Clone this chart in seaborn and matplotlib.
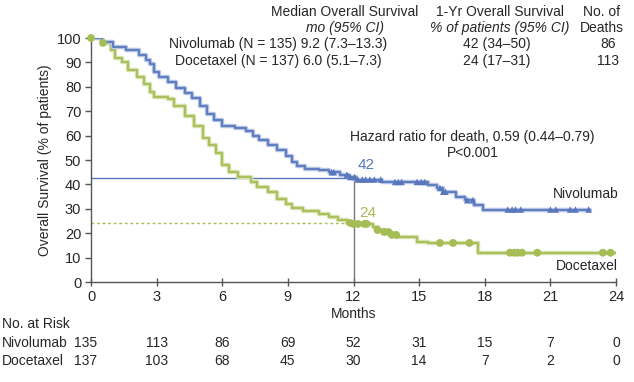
import numpy as np
import pandas as pd
import seaborn as sns
import matplotlib.pyplot as plt
import matplotlib.patheffects as pe

# Kaplan-Meier step points (months, % surviving)
nivo_t = [0, 0.5, 1.0, 1.6, 2.2, 2.5, 2.7, 2.9, 3.1, 3.5, 3.9, 4.3, 4.6, 5.0, 5.3, 5.6, 6.0,
          6.6, 7.1, 7.4, 7.7, 8.1, 8.5, 8.9, 9.2, 9.4, 9.8, 10.4, 10.9, 11.4, 11.8, 12.1,
          13.3, 15.4, 15.8, 16.1, 16.7, 17.1, 17.5, 17.9, 22.8]
nivo_s = [100, 98.5, 96.5, 95, 93, 91, 89.5, 86, 84, 82, 79.5, 77.5, 75.5, 72, 69, 66.5, 64,
          63, 62, 60, 58, 56, 54, 51.5, 49, 47.5, 46.5, 46, 45, 44, 43, 42,
          41, 39.8, 38.5, 37, 35, 33.5, 31.5, 29.7, 29.7]
doce_t = [0, 0.5, 0.9, 1.1, 1.4, 1.7, 2.1, 2.4, 2.7, 2.9, 3.5, 3.8, 4.3, 4.7, 5.1, 5.4, 5.7,
          6.0, 6.3, 6.7, 7.3, 7.6, 8.1, 8.5, 8.9, 9.2, 9.7, 10.4, 10.9, 11.3, 11.7, 12.0,
          12.9, 13.1, 13.4, 13.7, 14.0, 14.9, 15.4, 17.7, 24.0]
doce_s = [100, 98, 95, 92, 90, 87, 84, 81, 78, 76, 75, 72, 68, 64, 59, 56, 53,
          48, 45, 43, 41, 39, 37, 34, 32, 30.5, 29, 28, 26.8, 25.5, 24.2, 23.8,
          22.5, 21.3, 20.5, 19.3, 18.4, 16.4, 16, 12, 12]

# censored observations (months)
nivo_cens = [11.0, 11.1, 11.7, 11.85, 12.05, 12.2, 12.4, 12.55, 12.75, 12.95, 13.25, 13.9, 14.05,
             14.2, 14.9, 15.1, 15.25, 15.95, 16.1, 16.2, 17.2, 17.45, 19.05, 19.25, 19.4,
             19.65, 21.0, 21.25, 21.9, 22.15, 22.75]
doce_cens = [0.0, 0.55, 11.85, 12.0, 12.2, 12.5, 12.6, 13.1, 13.4, 13.6, 13.75, 13.95, 15.95,
             16.55, 17.3, 19.15, 19.35, 19.5, 19.7, 20.4, 23.4, 23.75]

months = [0, 3, 6, 9, 12, 15, 18, 21, 24]
risk_nivo = [135, 113, 86, 69, 52, 31, 15, 7, 0]
risk_doce = [137, 103, 68, 45, 30, 14, 7, 2, 0]

blue = '#5877bd'
green = '#a5bd55'
blue_halo = '#b5c3e3'
green_halo = '#d6e2ad'


def surv_at(t, times, surv):
    i = np.searchsorted(times, t, side='right') - 1
    return surv[max(i, 0)]


km = pd.concat([
    pd.DataFrame({'month': nivo_t, 'surv': nivo_s, 'arm': 'Nivolumab'}),
    pd.DataFrame({'month': doce_t, 'surv': doce_s, 'arm': 'Docetaxel'}),
])
cn = pd.DataFrame({'month': nivo_cens, 'surv': [surv_at(t, nivo_t, nivo_s) for t in nivo_cens]})
cd = pd.DataFrame({'month': doce_cens, 'surv': [surv_at(t, doce_t, doce_s) for t in doce_cens]})

sns.set_theme(style='ticks')
plt.rcParams['font.family'] = ['Liberation Sans', 'DejaVu Sans']

fig = plt.figure(figsize=(6.34, 3.82), dpi=100)
ax = fig.add_axes([91 / 634, 1 - 282 / 382, 525 / 634, 244 / 382])


def fx(x):
    return x / 634


def fy(y):
    return 1 - y / 382


# reference lines at 12 months
ax.plot([0, 12], [42.5, 42.5], color=blue, lw=1, zorder=1)
ax.plot([0, 12], [24, 24], color=green, lw=1, ls=(0, (2, 2)), zorder=1)
ax.plot([12, 12], [0, 42.5], color='#777777', lw=1, zorder=1)

for arm, col, halo in [('Docetaxel', green, green_halo), ('Nivolumab', blue, blue_halo)]:
    sns.lineplot(data=km[km['arm'] == arm], x='month', y='surv', estimator=None, sort=False,
                 drawstyle='steps-post', color=col, lw=1.3, ax=ax, zorder=3,
                 path_effects=[pe.Stroke(linewidth=3.2, foreground=halo), pe.Normal()])

sns.scatterplot(data=cn, x='month', y='surv', marker='^', color=blue, s=22, edgecolor='none',
                ax=ax, zorder=4)
sns.scatterplot(data=cd, x='month', y='surv', marker='o', color=green, s=32, edgecolor='none',
                ax=ax, zorder=4, clip_on=False)

fs = 10
ax.set_xlim(0, 24)
ax.set_ylim(0, 100)
ax.set_xticks(months)
ax.set_yticks(range(0, 101, 10))
ax.set_xlabel('Months', fontsize=fs, labelpad=2)
ax.set_ylabel('Overall Survival (% of patients)', fontsize=fs, labelpad=3)
ax.tick_params(axis='x', direction='inout', length=6, width=1, color='#555555', labelsize=10.5, pad=3)
ax.tick_params(axis='y', direction='out', length=4, width=1, color='#555555', labelsize=10.5, pad=3)
for side in ['left', 'bottom']:
    ax.spines[side].set_color('#555555')
    ax.spines[side].set_linewidth(1)
sns.despine(ax=ax)

ax.text(12.2, 45, '42', color=blue, fontsize=11, va='bottom')
ax.text(12.25, 25.4, '24', color=green, fontsize=11, va='bottom')
ax.text(17.45, 59.4, 'Hazard ratio for death, 0.59 (0.44\u20130.79)', ha='center', va='center', fontsize=fs)
ax.text(17.45, 52.9, 'P<0.001', ha='center', va='center', fontsize=fs)
ax.text(24.1, 36, 'Nivolumab', ha='right', va='center', fontsize=fs)
ax.text(24.1, 6.5, 'Docetaxel', ha='right', va='center', fontsize=fs)

# header table
fig.text(fx(345), fy(12), 'Median Overall Survival', ha='center', va='center', fontsize=fs)
fig.text(fx(345), fy(28), 'mo (95% CI)', ha='center', va='center', fontsize=fs, style='italic')
fig.text(fx(500), fy(12), '1-Yr Overall Survival', ha='center', va='center', fontsize=fs)
fig.text(fx(500), fy(28), '% of patients (95% CI)', ha='center', va='center', fontsize=fs, style='italic')
fig.text(fx(602), fy(12), 'No. of', ha='center', va='center', fontsize=fs)
fig.text(fx(602), fy(28), 'Deaths', ha='center', va='center', fontsize=fs)
fig.text(fx(278), fy(44), 'Nivolumab (N = 135) 9.2 (7.3\u201313.3)', ha='center', va='center', fontsize=fs)
fig.text(fx(278), fy(61), 'Docetaxel (N = 137) 6.0 (5.1\u20137.3)', ha='center', va='center', fontsize=fs)
fig.text(fx(497), fy(44), '42 (34\u201350)', ha='center', va='center', fontsize=fs)
fig.text(fx(497), fy(61), '24 (17\u201331)', ha='center', va='center', fontsize=fs)
fig.text(fx(608), fy(44), '86', ha='center', va='center', fontsize=fs)
fig.text(fx(608), fy(61), '113', ha='center', va='center', fontsize=fs)

# number at risk
xt = ax.get_xaxis_transform()
fig.text(fx(2), fy(324), 'No. at Risk', ha='left', va='center', fontsize=fs)
fig.text(fx(2), fy(343), 'Nivolumab', ha='left', va='center', fontsize=fs)
fig.text(fx(2), fy(361), 'Docetaxel', ha='left', va='center', fontsize=fs)
for m, a, b in zip(months, risk_nivo, risk_doce):
    xm = m - 0.25 if m == 0 else m
    ax.text(xm, -(343 - 282) / 244, str(a), transform=xt, ha='center', va='center', fontsize=fs)
    ax.text(xm, -(361 - 282) / 244, str(b), transform=xt, ha='center', va='center', fontsize=fs)

fig.savefig('out.png', dpi=100)
